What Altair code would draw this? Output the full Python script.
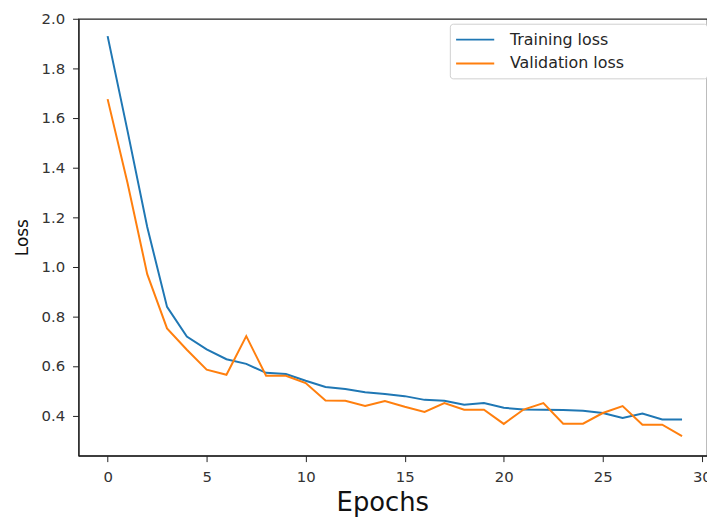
import altair as alt
import pandas as pd

epochs = list(range(30))
training_loss = [1.93, 1.55, 1.16, 0.838, 0.718, 0.667, 0.627, 0.608, 0.572, 0.567,
                 0.54, 0.515, 0.507, 0.494, 0.487, 0.478, 0.463, 0.459, 0.443, 0.45,
                 0.431, 0.424, 0.423, 0.422, 0.419, 0.41, 0.39, 0.408, 0.384, 0.384]
validation_loss = [1.676, 1.34, 0.97, 0.751, 0.665, 0.585, 0.564, 0.72, 0.56, 0.56,
                   0.531, 0.46, 0.459, 0.438, 0.458, 0.435, 0.414, 0.45, 0.423, 0.423,
                   0.366, 0.424, 0.45, 0.367, 0.367, 0.41, 0.438, 0.363, 0.363, 0.317]
series_names = ["Training loss", "Validation loss"]
series_colors = ["#1f77b4", "#ff7f0e"]
x_ticks = [0, 5, 10, 15, 20, 25, 30]
y_ticks = [0.4, 0.6, 0.8, 1.0, 1.2, 1.4, 1.6, 1.8, 2.0]

df = pd.DataFrame({
    "epoch": epochs * 2,
    "loss": training_loss + validation_loss,
    "series": [series_names[0]] * len(epochs) + [series_names[1]] * len(epochs),
})

FONT = "DejaVu Sans"
PAD = " " * 15 + "\u200b"
label_expr = "datum.label + '" + PAD + "'"

chart = alt.Chart(df).mark_line(strokeWidth=2).encode(
    x=alt.X("epoch:Q",
            scale=alt.Scale(domain=[-1.47, 30.26], nice=False, zero=False),
            axis=alt.Axis(values=x_ticks, title="Epochs", format="d",
                          labelPadding=8, titlePadding=5, titleFontSize=26,
                          titleX=306, titleAlign="center")),
    y=alt.Y("loss:Q",
            scale=alt.Scale(domain=[0.238, 2.0], nice=False, zero=False),
            axis=alt.Axis(values=y_ticks, title="Loss", format=".1f",
                          labelPadding=8, titlePadding=10, titleFontSize=17)),
    color=alt.Color("series:N",
                    scale=alt.Scale(domain=series_names, range=series_colors),
                    legend=alt.Legend(title=None, orient="none",
                                      legendX=374, legendY=5,
                                      symbolType="M-2.4,0H2.4", symbolSize=256,
                                      symbolStrokeWidth=2, symbolOffset=9.5,
                                      labelOffset=26, labelLimit=400,
                                      labelExpr=label_expr,
                                      labelFontSize=16, labelFont=FONT,
                                      labelColor="#262626",
                                      rowPadding=7, padding=7,
                                      strokeColor="#d0d0d0", cornerRadius=3,
                                      fillColor="white")),
).properties(
    width=633,
    height=440,
    padding={"left": 71, "top": 9, "right": 0, "bottom": 68},
    autosize=alt.AutoSizeParams(type="none"),
).configure_view(
    stroke="#222222", strokeWidth=1.2
).configure_axis(
    grid=False,
    domainColor="#222222",
    domainWidth=1.2,
    tickColor="#222222",
    tickSize=6,
    labelFont=FONT,
    labelFontSize=15,
    labelColor="#333333",
    titleFont=FONT,
    titleColor="#111111",
    titleFontWeight="normal",
)

chart.save("out.html", embed_options={"renderer": "svg", "actions": False})
